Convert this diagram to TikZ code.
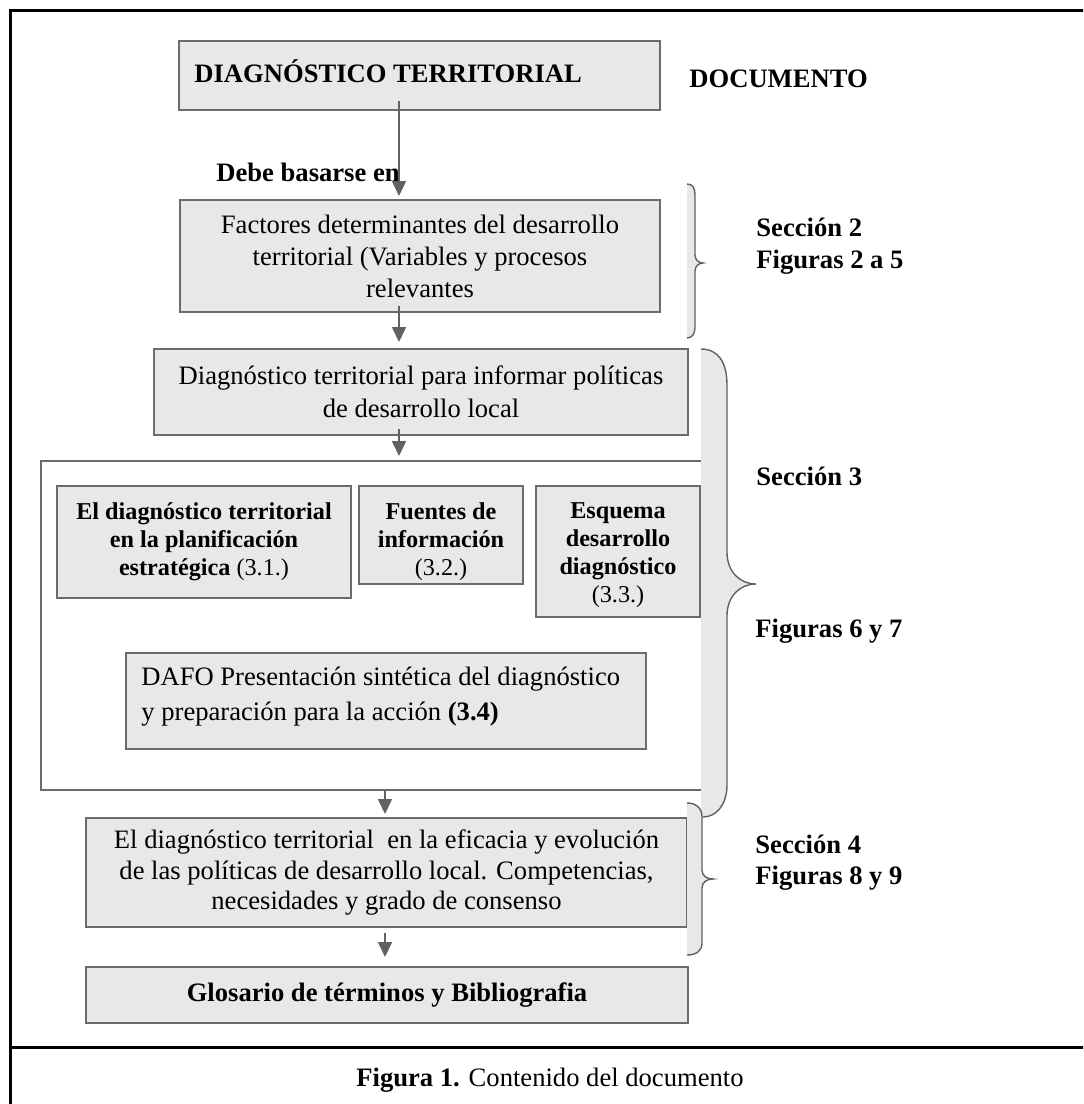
\documentclass[tikz,border=0pt]{standalone}
\usepackage{fontspec}
\setmainfont{Liberation Serif}
\usetikzlibrary{arrows.meta}
\definecolor{boxfill}{gray}{0.91}
\definecolor{boxline}{gray}{0.42}
\definecolor{arrowgray}{gray}{0.38}
\newcommand\txtreg{\fontsize{13.3}{16}\selectfont}
\newcommand\txtsmb{\fontsize{12.1}{14}\selectfont}
\begin{document}
\begin{tikzpicture}[x=0.5pt,y=-0.5pt,
  box/.style={draw=boxline,fill=boxfill,line width=1pt,inner sep=0pt,align=center,font=\txtreg},
  group/.style={draw=boxline,line width=1pt,inner sep=0pt},
  inbox/.style={inner sep=0pt,align=left},
  arr/.style={draw=arrowgray,line width=0.8pt,-{Triangle[width=7pt,length=7.5pt]},arrowgray},
  bracefill/.style={fill=boxfill,draw=none},
  braceline/.style={draw=arrowgray,line width=0.7pt},
  label/.style={font=\txtreg\bfseries,align=left,anchor=west,inner sep=0pt}]
\useasboundingbox (0,0) rectangle (1083,1104);
\clip (0,0) rectangle (1083,1104);

% outer frame and caption divider
\draw[line width=1.5pt] (10,1120) -- (10,10) -- (1100,10);
\draw[line width=1.5pt] (10,1047) -- (1100,1047);

% spine x-positions for the arrows
\coordinate (s1) at (399,0);
\coordinate (s2) at (385,0);

% title box
\node[box,minimum width=240.5pt,minimum height=34.5pt] (top) at (419.5,75.5) {};
\node[inbox,anchor=west,font=\txtreg\bfseries] (toptxt) at ([xshift=8pt,yshift=2pt]top.west) {DIAGNÓSTICO TERRITORIAL};
\node[label] (doc) at (689,79) {DOCUMENTO};
\node[label] (debe) at (216,172) {Debe basarse en};

\node[box,minimum width=240pt,minimum height=56pt] (fact) at (420,256)
  {Factores determinantes del desarrollo\\territorial (Variables y procesos\\relevantes};

\node[box,minimum width=267pt,minimum height=43pt,font=\fontsize{13.3}{16.5}\selectfont] (diag) at (421,392)
  {Diagnóstico territorial para informar políticas\\de desarrollo local};

% section 3 group
\node[group,minimum width=335pt,minimum height=164.5pt] (grp) at (376,625.5) {};

\node[box,minimum width=147pt,minimum height=56pt,font=\txtsmb] (b31) at (204,542)
  {\textbf{El diagnóstico territorial}\\\textbf{en la planificación}\\\textbf{estratégica} (3.1.)};
\node[box,minimum width=82pt,minimum height=49pt] (b32) at (441,535) {};
\node[inbox,align=center,anchor=north,font=\txtsmb] (b32txt) at ([yshift=-8.5pt]b32.north)
  {\textbf{Fuentes de}\\\textbf{información}\\(3.2.)};
\node[box,minimum width=82pt,minimum height=65.5pt] (b33) at (618,551.5) {};
\node[inbox,align=center,anchor=north,font=\txtsmb] (b33txt) at ([yshift=-8.5pt]b33.north)
  {\textbf{Esquema}\\\textbf{desarrollo}\\\textbf{diagnóstico}\\(3.3.)};

\node[box,minimum width=260pt,minimum height=48pt] (dafo) at (386,701) {};
\node[inbox,anchor=north west,font=\fontsize{13.3}{17.5}\selectfont] (dafotxt) at ([xshift=8pt,yshift=-7.5pt]dafo.north west)
  {DAFO Presentación sintética del diagnóstico\\y preparación para la acción \textbf{(3.4)}};

\node[box,minimum width=300.5pt,minimum height=54.5pt,font=\fontsize{13.3}{15.3}\selectfont] (sec4) at (386.5,872.5)
  {El diagnóstico territorial\ \ en la eficacia y evolución\\de las políticas de desarrollo local. Competencias,\\necesidades y grado de consenso};

\node[box,minimum width=301pt,minimum height=28pt,font=\txtreg\bfseries] (glos) at (387,995)
  {Glosario de términos y Bibliografia};

% connectors
\draw[arr] ([yshift=5pt]top.south -| s1) -- ([yshift=1.5pt]fact.north -| s1);
\draw[arr] ([yshift=3.5pt]fact.south -| s1) -- ([yshift=3pt]diag.north -| s1);
\draw[arr] ([yshift=3.5pt]diag.south -| s1) -- ([yshift=2pt]grp.north -| s1);
\draw[arr] (grp.south -| s2) -- ([yshift=1.5pt]sec4.north -| s2);
\draw[arr] ([yshift=-2.5pt]sec4.south -| s2) -- ([yshift=4.5pt]glos.north -| s2);

% brace for section 2
\path[bracefill] (687,184) .. controls (693,184) and (695,188) .. (695,196) -- (695,255)
  .. controls (695,260) and (699,263) .. (703,263) .. controls (699,263) and (695,266) .. (695,271)
  -- (695,327) .. controls (695,334) and (692,338) .. (687,338) -- cycle;
\draw[braceline] (687,184) .. controls (693,184) and (695,188) .. (695,196) -- (695,255)
  .. controls (695,260) and (699,263) .. (703,263) .. controls (699,263) and (695,266) .. (695,271)
  -- (695,327) .. controls (695,334) and (692,338) .. (687,338);

% brace for section 3
\path[bracefill] (701,349) .. controls (718,349) and (727,362) .. (727,385) -- (727,552)
  .. controls (727,572) and (740,584) .. (756,584) .. controls (740,584) and (727,596) .. (727,616)
  -- (727,785) .. controls (727,805) and (716,817) .. (703,817) -- (701,817) -- cycle;
\draw[braceline] (701,349) .. controls (718,349) and (727,362) .. (727,385) -- (727,552)
  .. controls (727,572) and (740,584) .. (756,584) .. controls (740,584) and (727,596) .. (727,616)
  -- (727,785) .. controls (727,805) and (716,817) .. (703,817);

% brace for section 4
\path[bracefill] (687,803) .. controls (696,803) and (702,808) .. (702,817) -- (702,870)
  .. controls (702,876) and (707,879) .. (713,879) .. controls (707,879) and (702,882) .. (702,888)
  -- (702,943) .. controls (702,951) and (696,955) .. (687,955) -- cycle;
\draw[braceline] (687,803) .. controls (696,803) and (702,808) .. (702,817) -- (702,870)
  .. controls (702,876) and (707,879) .. (713,879) .. controls (707,879) and (702,882) .. (702,888)
  -- (702,943) .. controls (702,951) and (696,955) .. (687,955);

% section labels
\node[label,font=\fontsize{13.3}{16}\selectfont\bfseries] (l2) at (756,246) {Sección 2\\Figuras 2 a 5};
\node[label] (l3a) at (756,476) {Sección 3};
\node[label] (l3b) at (755,631) {Figuras 6 y 7};
\node[label,font=\fontsize{13.3}{15.5}\selectfont\bfseries] (l4) at (755,862.5) {Sección 4\\Figuras 8 y 9};

% caption
\node[font=\txtreg,inner sep=0pt] (cap) at (550,1080) {\textbf{Figura 1.} Contenido del documento};
\end{tikzpicture}
\end{document}
